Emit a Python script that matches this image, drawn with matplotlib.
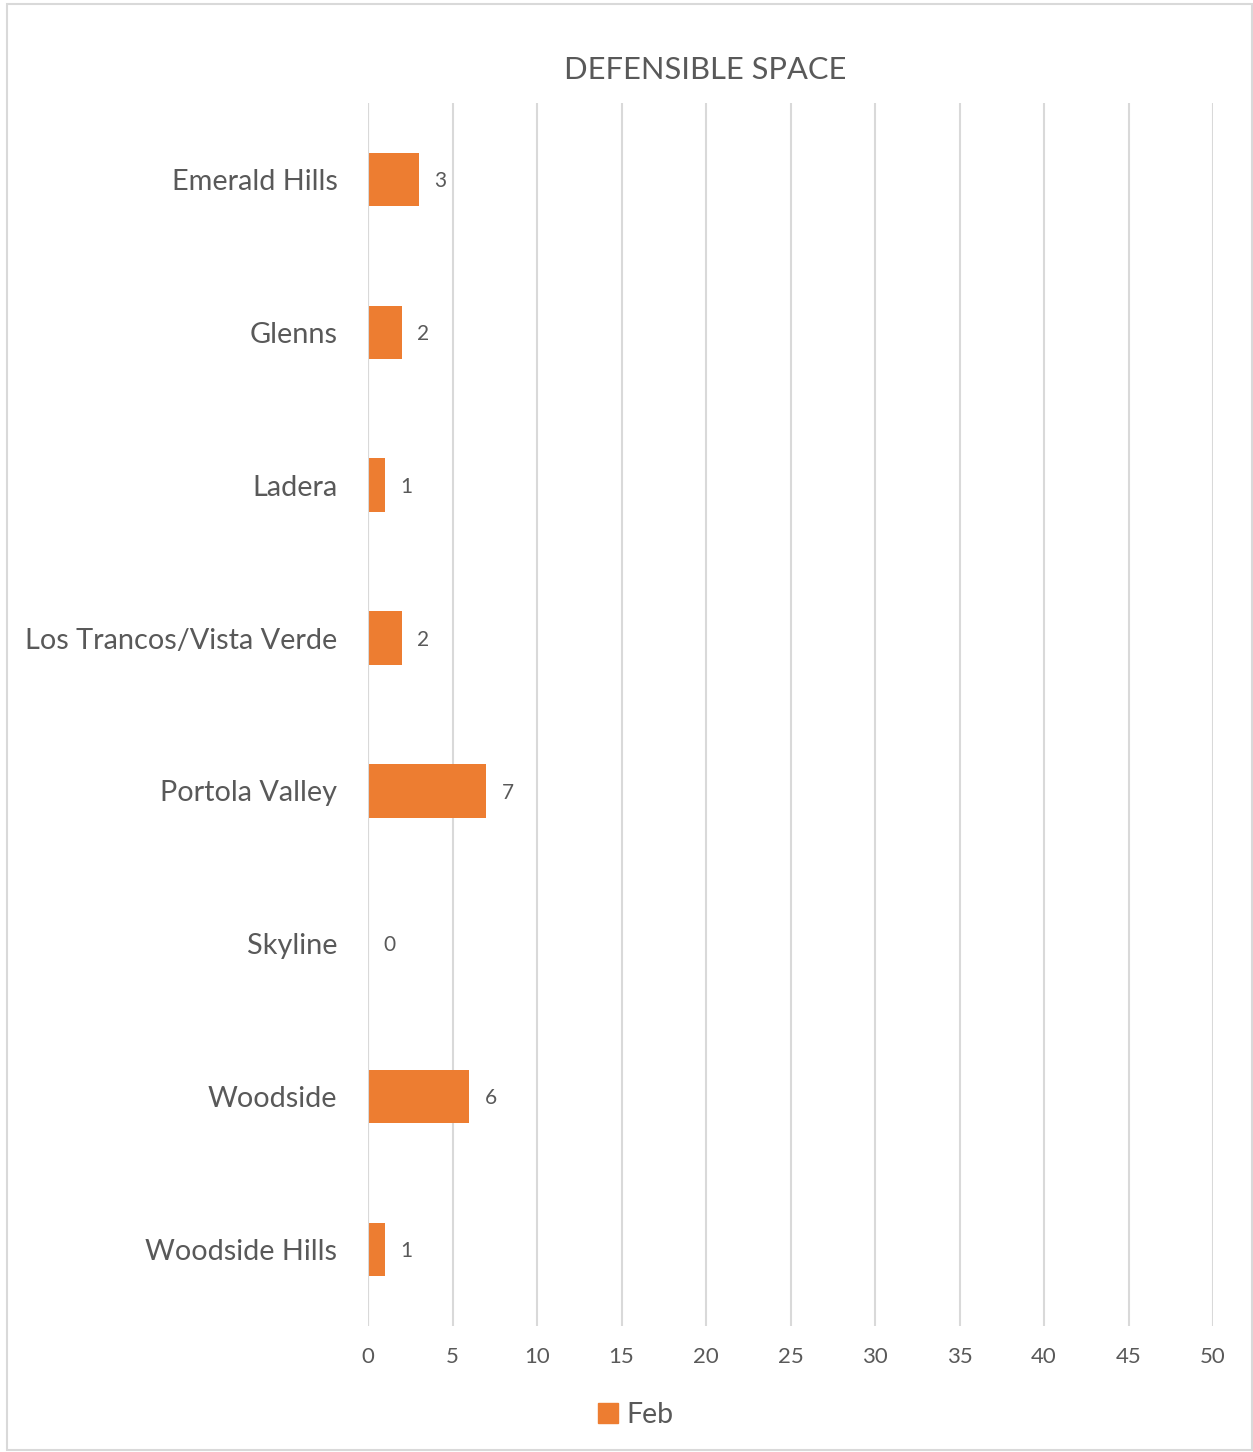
import matplotlib
matplotlib.use("Agg")
import matplotlib.pyplot as plt
from matplotlib.patches import Rectangle, Patch

categories = ["Emerald Hills", "Glenns", "Ladera", "Los Trancos/Vista Verde",
              "Portola Valley", "Skyline", "Woodside", "Woodside Hills"]
feb_values = [3, 2, 1, 2, 7, 0, 6, 1]
x_ticks = [0, 5, 10, 15, 20, 25, 30, 35, 40, 45, 50]
series_name = "Feb"
title = "DEFENSIBLE SPACE"

W, H = 1253, 1452
TXT = "#595959"
BAR = "#ED7D31"
GRID = "#D9D9D9"
FONT = "Lato"

fig = plt.figure(figsize=(W / 100, H / 100), dpi=100)
ax = fig.add_axes([368 / W, 1 - 1326 / H, (1213 - 368) / W, (1326 - 103) / H])

ypos = list(range(len(categories)))
ax.barh(ypos, feb_values, height=0.35, color=BAR, zorder=3)
ax.set_ylim(len(categories) - 0.5, -0.5)
ax.set_xlim(0, 50)
ax.set_xticks(x_ticks)
ax.set_xticklabels([str(t) for t in x_ticks], fontsize=16, color=TXT, family=FONT)
ax.set_yticks(ypos)
ax.set_yticklabels(categories, fontsize=20.8, color=TXT, family=FONT)
ax.tick_params(axis="x", length=0, pad=15)
ax.tick_params(axis="y", length=0, pad=22)
for s in ax.spines.values():
    s.set_visible(False)
ax.grid(axis="x", color=GRID, linewidth=1.5, zorder=0)
ax.axvline(0, color=GRID, linewidth=1.5, zorder=4)

for y, v in zip(ypos, feb_values):
    ax.annotate(str(v), xy=(v, y), xytext=(11, -1.2), textcoords="offset points",
                ha="left", va="center", fontsize=15, color=TXT, family=FONT)

fig.text(705 / W, 1 - 70 / H, title, ha="center", va="center",
         fontsize=22.2, color=TXT, family=FONT)

leg = fig.legend(handles=[Patch(color=BAR, label=series_name)],
                 loc="center", bbox_to_anchor=(636 / W, 1 - 1415 / H),
                 frameon=False, handlelength=0.7, handleheight=0.7,
                 handletextpad=0.3, prop={"family": FONT, "size": 20.5})
for t in leg.get_texts():
    t.set_color(TXT)

fig.patches.append(Rectangle((7 / W, 1 - 1450 / H), (1252 - 7) / W, (1450 - 4) / H,
                             transform=fig.transFigure, fill=False,
                             edgecolor=GRID, linewidth=1.5))

fig.savefig("out.png", dpi=100)
